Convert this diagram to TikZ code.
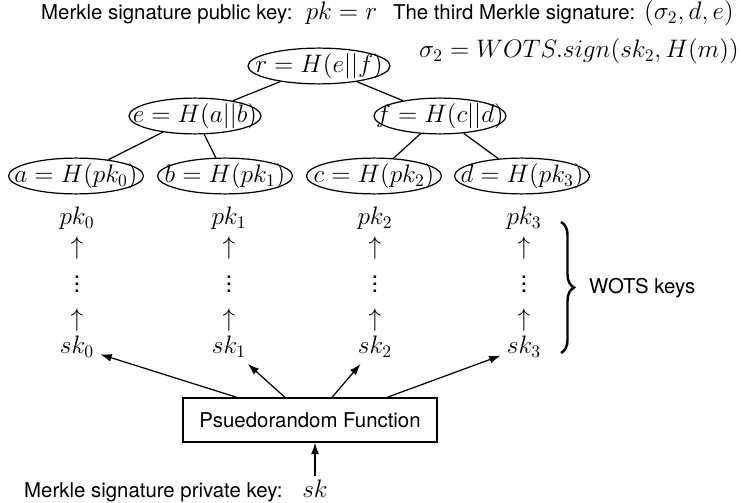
\documentclass[tikz,border=0pt]{standalone}
\usepackage[no-math]{fontspec}
\setmainfont{TeX Gyre Heros}
\usetikzlibrary{shapes.geometric,arrows.meta,decorations.pathreplacing}

\newcommand{\lbl}{\fontsize{11.6}{14}\selectfont}
\newcommand{\hashtext}[1]{\makebox[0pt]{$#1$}}

\tikzset{
  hash/.style={ellipse,draw,line width=0.7pt,inner sep=0pt,minimum height=0.66cm},
  chain/.style={inner sep=0pt},
  feed/.style={line width=0.7pt,-{Latex[length=6.5pt,width=4.5pt]}},
}

\begin{document}
\begin{tikzpicture}[font=\fontsize{13.7}{16}\selectfont]
\useasboundingbox (0,0) rectangle (14.82,10.04);
% headings
\node[anchor=base west] (pubkey) at (0.70,9.64) {{\lbl Merkle signature public key:}\ \ $pk=r$};
\node[anchor=base east] (sigtext) at (14.80,9.64) {{\lbl The third Merkle signature:} $(\sigma_2,d,e)$};
\node[anchor=base east,inner sep=0pt] (sigma) at (14.78,8.88) {$\sigma_2=WOTS.sign(sk_2,H(m))$};
% merkle tree
\node[hash,minimum width=2.84cm] (r) at (6.38,8.72) {\hashtext{r=H(e||f)}};
\node[hash,minimum width=2.64cm] (e) at (3.90,7.72) {\hashtext{e=H(a||b)}};
\node[hash,minimum width=2.64cm] (f) at (8.80,7.72) {\hashtext{f=H(c||d)}};
\node[hash,minimum width=2.70cm] (a) at (1.52,6.52) {\hashtext{a=H(pk_0)}};
\node[hash,minimum width=2.70cm] (b) at (4.50,6.52) {\hashtext{b=H(pk_1)}};
\node[hash,minimum width=2.70cm] (c) at (7.48,6.52) {\hashtext{c=H(pk_2)}};
\node[hash,minimum width=2.70cm] (d) at (10.44,6.52) {\hashtext{d=H(pk_3)}};
\draw[line width=0.7pt] (r) -- (e) (r) -- (f) (e) -- (a) (e) -- (b) (f) -- (c) (f) -- (d);
% wots chains
\foreach \i/\x in {0/1.54,1/4.58,2/7.50,3/10.48} {
  \node (pk\i)          at (\x,5.68) {$pk_\i$};
  \node[chain] (up\i)   at (\x,5.08) {$\uparrow$};
  \node[chain] (dots\i) at (\x,4.46) {$\vdots$};
  \node[chain] (lo\i)   at (\x,3.64) {$\uparrow$};
  \node (sk\i)          at (\x,3.10) {$sk_\i$};
}
\coordinate (btop) at (11.22,5.60);
\coordinate (bbot) at (11.22,2.98);
\draw[decorate,decoration={brace,amplitude=0.26cm},line width=1.4pt] (btop) -- (bbot);
\node[anchor=west] (wots) at (11.66,4.28) {\lbl WOTS keys};
% prf and secret key
\node[draw,line width=0.7pt,minimum width=5.08cm,minimum height=0.88cm] (prf) at (6.20,1.64) {\lbl Psuedorandom Function};
\node[anchor=base west] (privlbl) at (0.36,0.10) {\lbl Merkle signature private key:};
\node[anchor=base west,inner sep=1.5pt,xshift=0.21cm] (msk) at (privlbl.base east) {$sk$};
\draw[feed] (msk.north) -- (msk.north |- prf.south);
\draw[feed] ([xshift=-1.46cm]prf.north) -- (sk0);
\draw[feed] ([xshift=-0.50cm]prf.north) -- (sk1);
\draw[feed] ([xshift=0.44cm]prf.north) -- (sk2);
\draw[feed] ([xshift=1.54cm]prf.north) -- (sk3);
\end{tikzpicture}
\end{document}
